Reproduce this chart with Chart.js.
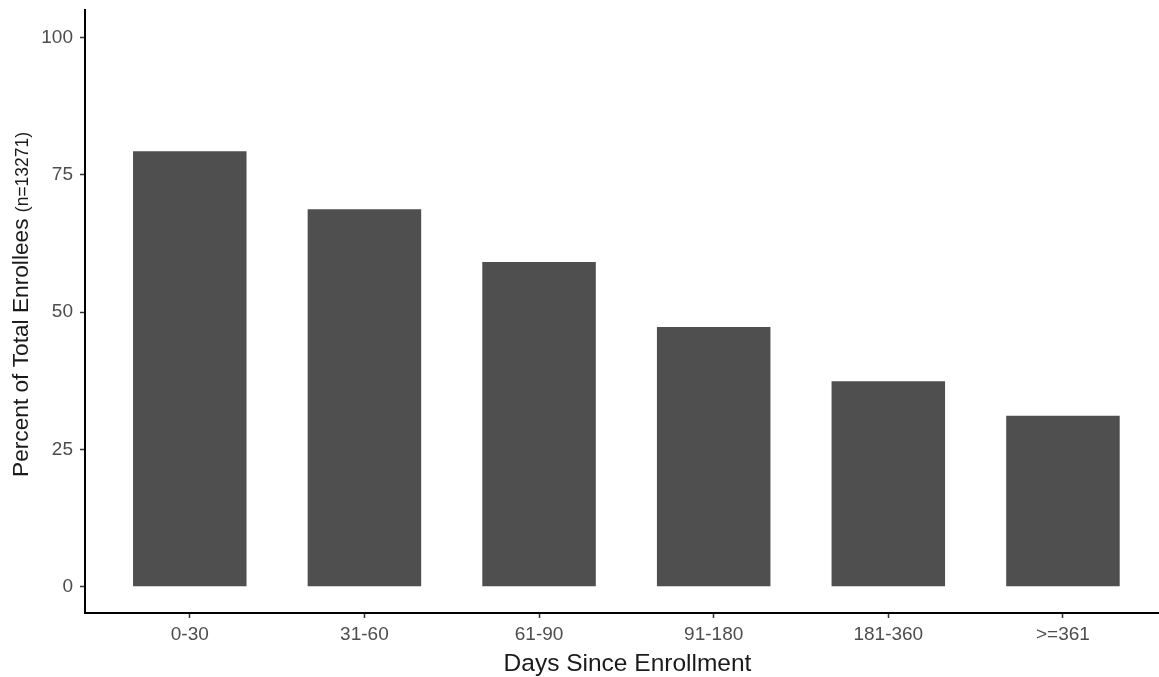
<!DOCTYPE html>
<html>
<head>
<meta charset="utf-8">
<script src="https://cdn.jsdelivr.net/npm/chart.js@4/dist/chart.umd.min.js"></script>
<style>
  html, body { margin: 0; padding: 0; background: #ffffff; }
  #wrap { width: 1159px; height: 677px; }
</style>
</head>
<body>
<div id="wrap"><canvas id="c" width="1159" height="677"></canvas></div>
<script>
const categories = ['0-30', '31-60', '61-90', '91-180', '181-360', '>=361'];
const percents = [79.3, 68.7, 59.1, 47.3, 37.4, 31.1];
const yTickValues = [0, 25, 50, 75, 100];
const xTitle = 'Days Since Enrollment';
const yTitleMain = 'Percent of Total Enrollees ';
const yTitleSmall = '(n=13271)';

const FAMILY = '"Liberation Sans", Arial, Helvetica, sans-serif';

const titlePlugin = {
  id: 'titles',
  afterDraw(chart) {
    const ctx = chart.ctx;
    ctx.save();
    ctx.fillStyle = '#1a1a1a';
    ctx.textBaseline = 'alphabetic';
    // x title
    ctx.font = '24.5px ' + FAMILY;
    ctx.textAlign = 'center';
    ctx.fillText(xTitle, 627.5, 671);
    // y title (rotated, mixed sizes)
    ctx.translate(28, 477);
    ctx.rotate(-Math.PI / 2);
    ctx.textAlign = 'left';
    ctx.font = '22.7px ' + FAMILY;
    ctx.fillText(yTitleMain, 0, 0);
    const w = ctx.measureText(yTitleMain).width;
    ctx.font = '17.5px ' + FAMILY;
    ctx.fillText(yTitleSmall, w, 0);
    ctx.restore();
  }
};

new Chart(document.getElementById('c'), {
  type: 'bar',
  data: {
    datasets: [{
      data: categories.map((c, i) => ({ x: i + 1, y: percents[i] })),
      backgroundColor: '#4f4f4f',
      borderWidth: 0,
      barPercentage: 0.65,
      categoryPercentage: 1
    }]
  },
  options: {
    responsive: false,
    animation: false,
    devicePixelRatio: 1,
    layout: { padding: { top: 10, left: 0, right: 0, bottom: 0 } },
    plugins: { legend: { display: false }, tooltip: { enabled: false }, title: { display: false } },
    scales: {
      x: {
        type: 'linear',
        offset: false,
        min: 0.4,
        max: 6.55,
        afterBuildTicks: s => { s.ticks = categories.map((c, i) => ({ value: i + 1 })); },
        afterFit: s => { s.height = 64; s.paddingLeft = 0; s.paddingRight = 0; },
        ticks: {
          callback: (v, i) => categories[i],
          autoSkip: false,
          maxRotation: 0,
          font: { size: 19, family: FAMILY },
          color: '#4d4d4d',
          padding: 5
        },
        grid: { offset: false, drawOnChartArea: false, drawTicks: true, tickLength: 5, color: '#333333', tickWidth: 1.5 },
        border: { display: true, color: '#000000', width: 2 }
      },
      y: {
        min: -4.8,
        max: 105,
        afterBuildTicks: s => { s.ticks = yTickValues.map(v => ({ value: v })); },
        afterFit: s => { s.width = 85; s.paddingTop = 0; s.paddingBottom = 0; },
        ticks: {
          font: { size: 19, family: FAMILY },
          color: '#4d4d4d',
          padding: 7
        },
        grid: { drawOnChartArea: false, drawTicks: true, tickLength: 5, color: '#333333', tickWidth: 1.5 },
        border: { display: true, color: '#000000', width: 2 }
      }
    }
  },
  plugins: [titlePlugin]
});
</script>
</body>
</html>
